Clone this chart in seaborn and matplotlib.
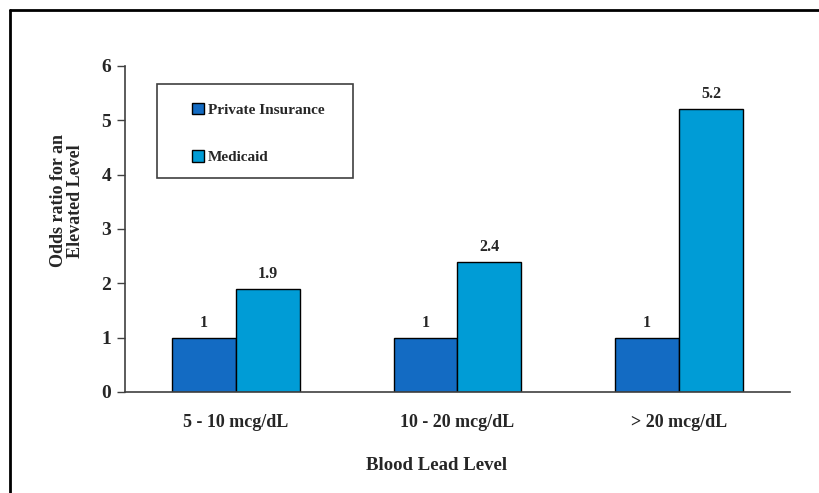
import numpy as np
import pandas as pd
import matplotlib
matplotlib.use("Agg")
import matplotlib.pyplot as plt
from matplotlib.lines import Line2D
from matplotlib.patches import Rectangle
import seaborn as sns

# --- data ---
categories = ["5 - 10 mcg/dL", "10 - 20 mcg/dL", "> 20 mcg/dL"]
private_insurance = [1, 1, 1]
medicaid = [1.9, 2.4, 5.2]
series_names = ["Private Insurance", "Medicaid"]
y_ticks = [0, 1, 2, 3, 4, 5, 6]

colors = ["#136BC3", "#009CD6"]

df = pd.DataFrame({
    "category": categories * 2,
    "value": private_insurance + medicaid,
    "series": [series_names[0]] * 3 + [series_names[1]] * 3,
})

sns.set_theme(style="white")
plt.rcParams["font.family"] = ["Liberation Serif", "DejaVu Serif"]
plt.rcParams["font.weight"] = "bold"

fig = plt.figure(figsize=(8.19, 4.93), dpi=100)
ax = fig.add_axes([0.1526, 0.2049, 0.812, 0.6613])

sns.barplot(data=df, x="category", y="value", hue="series", order=categories,
            hue_order=series_names, palette=colors, width=0.577, gap=0,
            edgecolor="black", linewidth=1, ax=ax, saturation=1)

for cont in ax.containers:
    ax.bar_label(cont, fmt="%g", padding=5, fontsize=11.5, fontweight="bold")

ax.set_xlim(-0.5, 2.5)
ax.set_ylim(0, 6)
ax.set_yticks(y_ticks)
ax.set_yticklabels([str(t) for t in y_ticks], fontsize=14, fontweight="bold")

# boundary ticks as major, category labels as minor
ax.set_xticks([-0.5, 0.5, 1.5, 2.5])
ax.set_xticklabels([])
ax.set_xticks([0, 1, 2], minor=True)
ax.set_xticklabels(categories, minor=True, fontsize=13, fontweight="bold")
ax.tick_params(axis="x", which="minor", length=0, pad=16)
ax.tick_params(axis="x", which="major", length=6, width=1, color="#404040", direction="out")
ax.tick_params(axis="y", length=6, width=1, color="#404040", direction="out", left=True, pad=4)

for side in ["top", "right"]:
    ax.spines[side].set_visible(False)
for side in ["left", "bottom"]:
    ax.spines[side].set_color("#404040")
    ax.spines[side].set_linewidth(1.2)

ax.set_ylabel("Odds ratio for an\nElevated Level", fontsize=13, fontweight="bold", linespacing=1.0)
ax.yaxis.set_label_coords(-0.062, 0.586)
ax.set_xlabel("Blood Lead Level", fontsize=13.5, fontweight="bold", labelpad=19)
ax.xaxis.set_label_coords(0.469, -0.2)
ax.xaxis.label.set_verticalalignment("top")

# legend entries without frame, box drawn separately
leg = ax.legend(loc="upper left", bbox_to_anchor=(0.101, 0.887), borderaxespad=0,
                frameon=False, prop={"size": 11, "weight": "bold"},
                handlelength=0.75, handleheight=0.75, handletextpad=0.3,
                labelspacing=2.2, borderpad=0)
ax.add_patch(Rectangle((0.048, 0.656), 0.295, 0.289, transform=ax.transAxes,
                       facecolor="none", edgecolor="#404040", linewidth=1.2, zorder=5))

# outer frame: top and left lines
fig.add_artist(Line2D([10 / 819, 1.0], [1 - 10 / 493, 1 - 10 / 493], color="black", linewidth=2, transform=fig.transFigure))
fig.add_artist(Line2D([10 / 819, 10 / 819], [0, 1 - 10 / 493], color="black", linewidth=2, transform=fig.transFigure))

fig.savefig("out.png", dpi=100)
